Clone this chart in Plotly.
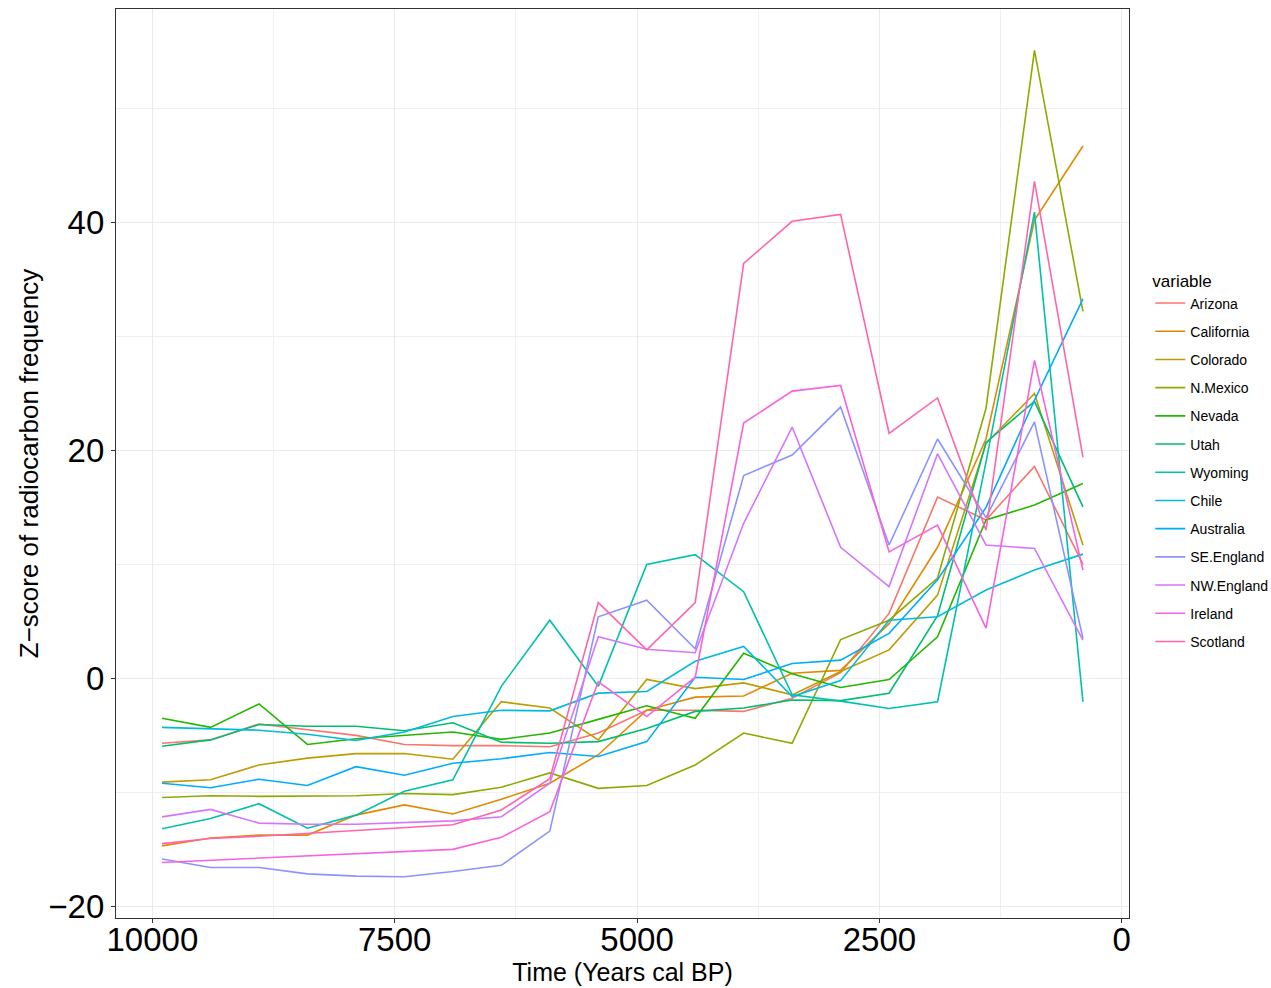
import plotly.graph_objects as go

# Bin midpoints, years cal BP
YEARS = [9900, 9400, 8900, 8400, 7900, 7400, 6900, 6400, 5900, 5400,
         4900, 4400, 3900, 3400, 2900, 2400, 1900, 1400, 900, 400]

REGIONS = ["Arizona", "California", "Colorado", "N.Mexico", "Nevada", "Utah",
           "Wyoming", "Chile", "Australia", "SE.England", "NW.England",
           "Ireland", "Scotland"]

# ggplot2 default hue palette for 13 levels
COLORS = ["#F8766D", "#E18A00", "#BE9C00", "#8CAB00", "#24B700", "#00BE70",
          "#00C1AB", "#00BBDA", "#00ACFC", "#8B93FF", "#D575FE", "#F962DD",
          "#FF65AC"]

arizona = [-5.7, -5.4, -4.0, -4.5, -5.0, -5.8, -5.9, -5.9, -6.0, -4.8,
           -2.8, -2.8, -2.9, -1.75, 0.5, 5.7, 15.9, 13.9, 18.6, 10.0]
california = [-14.7, -14.0, -13.75, -13.75, -12.0, -11.1, -11.9, -10.6, -9.2, -6.7,
              -2.8, -1.65, -1.55, 0.45, 0.7, 4.8, 11.5, 21.0, 40.2, 46.7]
colorado = [-9.1, -8.9, -7.6, -7.0, -6.6, -6.6, -7.1, -2.05, -2.6, -5.4,
            -0.1, -0.9, -0.4, -1.45, 0.6, 2.5, 7.3, 20.6, 25.0, 11.7]
n_mexico = [-10.45, -10.3, -10.35, -10.35, -10.3, -10.1, -10.2, -9.55, -8.3, -9.65,
            -9.4, -7.6, -4.8, -5.7, 3.4, 5.1, 8.8, 23.7, 55.1, 32.2]
nevada = [-3.5, -4.3, -2.25, -5.8, -5.3, -5.0, -4.7, -5.35, -4.8, -3.6,
          -2.4, -3.5, 2.2, 0.4, -0.8, -0.1, 3.65, 13.9, 15.2, 17.1]
utah = [-5.95, -5.4, -4.05, -4.2, -4.2, -4.6, -3.9, -5.6, -5.7, -5.55,
        -4.4, -2.9, -2.6, -1.9, -1.95, -1.3, 5.5, 20.7, 24.3, 15.05]
wyoming = [-13.2, -12.3, -11.0, -13.15, -12.0, -9.9, -8.9, -0.7, 5.1, -0.7,
           10.0, 10.85, 7.6, -1.45, -2.0, -2.65, -2.05, 19.0, 40.9, -2.05]
chile = [-4.3, -4.45, -4.55, -4.9, -5.45, -4.7, -3.35, -2.8, -2.85, -1.3,
         -1.15, 1.5, 2.8, -1.6, -0.2, 5.1, 5.4, 7.75, 9.5, 10.9]
australia = [-9.2, -9.6, -8.85, -9.4, -7.75, -8.5, -7.45, -7.05, -6.5, -6.85,
             -5.55, 0.1, -0.1, 1.3, 1.6, 3.95, 8.65, 15.0, 24.4, 33.3]
se_england = [-15.85, -16.6, -16.6, -17.15, -17.35, -17.4, -16.95, -16.4, -13.4, 5.4,
              6.85, 2.6, 17.8, 19.6, 23.8, 11.7, 21.0, 14.1, 22.5, 3.5]
nw_england = [-12.15, -11.5, -12.7, -12.8, -12.8, -12.65, -12.5, -12.15, -9.2, 3.65,
              2.55, 2.25, 13.6, 22.05, 11.5, 8.05, 19.7, 11.7, 11.4, 3.35]
ireland = [-16.15, -15.95, -15.8, -15.55, -15.35, -15.2, -15.0, -13.95, -11.7, -0.3,
           -3.35, 0.1, 22.4, 25.2, 25.7, 11.1, 13.45, 4.4, 27.9, 9.5]
scotland = [-14.5, -14.05, -13.85, -13.6, -13.35, -13.1, -12.85, -11.55, -8.8, 6.65,
            2.5, 6.65, 36.4, 40.1, 40.7, 21.5, 24.6, 13.0, 43.6, 19.4]

SERIES = [arizona, california, colorado, n_mexico, nevada, utah, wyoming,
          chile, australia, se_england, nw_england, ireland, scotland]

X_TICKS = [10000, 7500, 5000, 2500, 0]
Y_TICKS = [-20, 0, 20, 40]

FONT = "Liberation Sans, Arial, sans-serif"

fig = go.Figure()
for name, color, values in zip(REGIONS, COLORS, SERIES):
    fig.add_trace(go.Scatter(
        x=YEARS, y=values, mode="lines", name=name, legendgroup=name,
        line=dict(color=color, width=1.6),
    ))

# ggplot-style 5% expansion of the data range
x_lo, x_hi = min(YEARS), max(YEARS)
x_pad = 0.05 * (x_hi - x_lo)
all_y = [v for s in SERIES for v in s]
y_lo, y_hi = min(all_y), max(all_y)
y_pad = 0.05 * (y_hi - y_lo)

axis_common = dict(
    showline=True, mirror=True, linecolor="#333333", linewidth=1.3,
    ticks="outside", ticklen=4, tickcolor="#333333", tickwidth=1,
    showgrid=True, gridcolor="#EBEBEB", gridwidth=1.2, zeroline=False,
    tickfont=dict(family=FONT, size=33, color="black"),
)

fig.update_xaxes(
    range=[x_hi + x_pad, x_lo - x_pad],
    tickmode="array", tickvals=X_TICKS, ticktext=[str(t) for t in X_TICKS],
    ticklabelstandoff=-12,
    minor=dict(tickmode="array", tickvals=[8750, 6250, 3750, 1250],
               showgrid=True, gridcolor="#F0F0F0", gridwidth=0.8, ticks=""),
    title=dict(text="Time (Years cal BP)", font=dict(family=FONT, size=25, color="black"),
               standoff=2),
    **axis_common,
)
fig.update_yaxes(
    range=[y_lo - y_pad, y_hi + y_pad],
    tickmode="array", tickvals=Y_TICKS,
    ticktext=["\u221220" if t < 0 else str(t) for t in Y_TICKS],
    minor=dict(tickmode="array", tickvals=[-10, 10, 30, 50],
               showgrid=True, gridcolor="#F0F0F0", gridwidth=0.8, ticks=""),
    title=dict(text="Z\u2212score of radiocarbon frequency",
               font=dict(family=FONT, size=26, color="black"), standoff=2),
    **axis_common,
)

fig.update_layout(
    width=1271, height=988,
    margin=dict(l=116, r=142, t=9, b=70, autoexpand=False),
    paper_bgcolor="white", plot_bgcolor="white",
    showlegend=True,
    legend=dict(
        x=1.021, y=0.718, xanchor="left", yanchor="top",
        title=dict(text="variable", font=dict(family=FONT, size=17, color="black")),
        font=dict(family=FONT, size=14, color="black"),
        tracegroupgap=7, itemwidth=30, bgcolor="rgba(0,0,0,0)",
    ),
)

fig.write_html("out.html")
